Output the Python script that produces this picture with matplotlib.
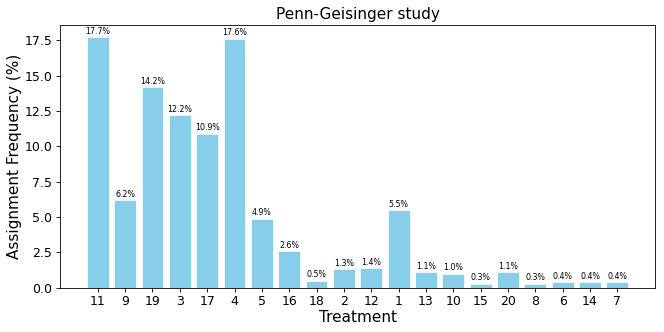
import matplotlib
matplotlib.use("Agg")
import matplotlib.pyplot as plt

treatments = ["11", "9", "19", "3", "17", "4", "5", "16", "18", "2",
              "12", "1", "13", "10", "15", "20", "8", "6", "14", "7"]
freq = [17.7, 6.2, 14.2, 12.2, 10.9, 17.6, 4.9, 2.6, 0.5, 1.3,
        1.4, 5.5, 1.1, 1.0, 0.3, 1.1, 0.3, 0.4, 0.4, 0.4]

fig, ax = plt.subplots(figsize=(6.64, 3.32), dpi=100)
fig.subplots_adjust(left=0.09, right=0.987, top=0.925, bottom=0.133)

bars = ax.bar(treatments, freq, color="skyblue", edgecolor="white", linewidth=0.5)
ax.bar_label(bars, labels=[f"{v:.1f}%" for v in freq], fontsize=5.7, padding=1)

ax.set_title("Penn-Geisinger study", fontsize=11, pad=4)
ax.set_xlabel("Treatment", fontsize=11, labelpad=1)
ax.set_ylabel("Assignment Frequency (%)", fontsize=11, labelpad=1.5)
ax.tick_params(labelsize=9, length=3, width=0.6, pad=2.5)
for s in ax.spines.values():
    s.set_linewidth(0.6)

fig.savefig("out.png", dpi=100)
